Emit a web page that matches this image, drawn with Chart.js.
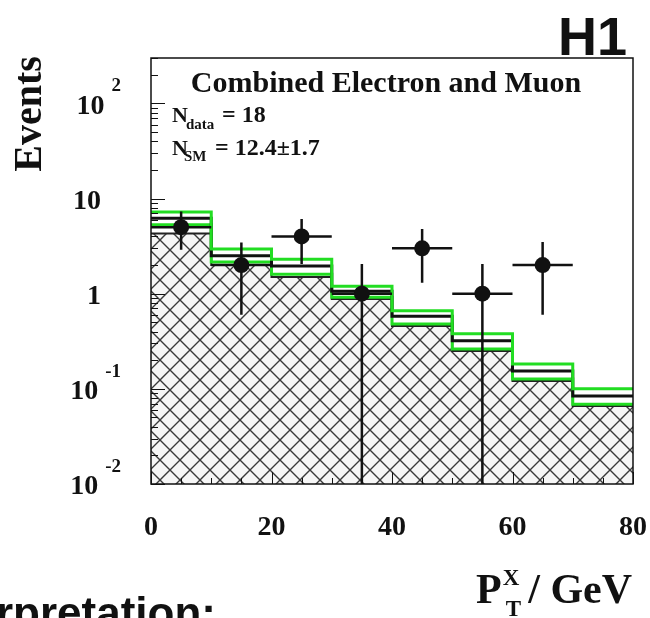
<!DOCTYPE html>
<html>
<head>
<meta charset="utf-8">
<title>PT X distribution</title>
<script src="https://cdn.jsdelivr.net/npm/chart.js@4.4.0/dist/chart.umd.min.js"></script>
<style>
    html, body { margin: 0; padding: 0; background: #fff; }
    #wrap { width: 650px; height: 618px; position: relative; }
</style>
</head>
<body>
<div id="wrap"><canvas id="ptxChart" width="650" height="618"></canvas></div>
<script>
// histogram bin edges (GeV)
const binEdges = [0, 10, 20, 30, 40, 50, 60, 70, 80];

// SM expectation per bin, its band edges (green) and the hatched component
const smTotal = [6.2, 2.5, 1.95, 1.06, 0.58, 0.32, 0.154, 0.084];
const smUp = [7.2, 2.95, 2.3, 1.2, 0.66, 0.38, 0.182, 0.1];
const smDown = [5.3, 2.15, 1.6, 0.92, 0.48, 0.262, 0.127, 0.069];
const hatchedPart = [4.3, 2.0, 1.5, 0.88, 0.457, 0.25, 0.121, 0.066];

// data points with error bars
const dataX = [5, 15, 25, 35, 45, 55, 65];
const dataXErr = [5, 5, 5, 5, 5, 5, 5];
const dataY = [5, 2, 4, 1, 3, 1, 2];
const dataHi = [7.3, 3.45, 6.1, 2.05, 4.8, 2.05, 3.5];
const dataLo = [2.9, 0.6, 2.05, 0, 1.3, 0, 0.6];

// axis ticks
const xTicks = [0, 20, 40, 60, 80];
const yTicks = [0.01, 0.1, 1, 10, 100];
const yTickBase = ['10', '10', '1', '10', '10'];
const yTickExp = ['-2', '-1', '', '', '2'];

const SERIF = '"Liberation Serif", "DejaVu Serif", serif';
const SANS = '"Liberation Sans", Arial, sans-serif';
const GREEN = '#22dd22';
const INK = '#111';

function stepPoints(values) {
    return binEdges.map((x, i) => ({ x: x, y: values[Math.min(i, values.length - 1)] }));
}

function makeHatch() {
    const size = 20;
    const c = document.createElement('canvas');
    c.width = size;
    c.height = size;
    const g = c.getContext('2d');
    g.fillStyle = '#f6f6f6';
    g.fillRect(0, 0, size, size);
    g.strokeStyle = '#3a3a3a';
    g.lineWidth = 1.4;
    g.beginPath();
    for (let k = -1; k <= 1; k++) {
        g.moveTo(k * size, 0);
        g.lineTo(k * size + size, size);
        g.moveTo(k * size + size, 0);
        g.lineTo(k * size, size);
    }
    g.stroke();
    return g.createPattern(c, 'repeat');
}

/**
 * Vertical and horizontal error bars, drawn just before the data markers
 */
const errorBarPlugin = {
    id: 'errorBars',
    beforeDatasetDraw(chart, args) {
        if (args.index !== 0) return;
        const { ctx, chartArea, scales: { x, y } } = chart;
        ctx.save();
        ctx.strokeStyle = INK;
        ctx.lineWidth = 2.5;
        ctx.beginPath();
        dataX.forEach((xv, i) => {
            const px = x.getPixelForValue(xv);
            const py = y.getPixelForValue(dataY[i]);
            const top = y.getPixelForValue(dataHi[i]);
            const bot = dataLo[i] > 0 ? y.getPixelForValue(dataLo[i]) : chartArea.bottom;
            ctx.moveTo(px, top);
            ctx.lineTo(px, bot);
            ctx.moveTo(x.getPixelForValue(xv - dataXErr[i]), py);
            ctx.lineTo(x.getPixelForValue(xv + dataXErr[i]), py);
        });
        ctx.stroke();
        ctx.restore();
    }
};

/**
 * ROOT-style frame with inner ticks, plus all the texts around the plot
 */
const frameAndLabels = {
    id: 'frameAndLabels',
    afterDatasetsDraw(chart) {
        const { ctx, chartArea: a, scales: { x, y } } = chart;
        ctx.save();
        ctx.strokeStyle = INK;
        ctx.lineWidth = 1.5;
        ctx.strokeRect(a.left, a.top, a.right - a.left, a.bottom - a.top);

        ctx.lineWidth = 1;
        ctx.beginPath();
        yTicks.forEach(t => {
            for (let m = 1; m <= 9; m++) {
                const v = t * m;
                if (v > y.max) break;
                const py = Math.round(y.getPixelForValue(v)) + 0.5;
                ctx.moveTo(a.left, py);
                ctx.lineTo(a.left + (m === 1 ? 14 : 7), py);
            }
        });
        for (let v = x.min; v <= x.max; v += 5) {
            const px = Math.round(x.getPixelForValue(v)) + 0.5;
            const major = xTicks.includes(v);
            ctx.moveTo(px, a.bottom);
            ctx.lineTo(px, a.bottom - (major ? 12 : 6));
        }
        ctx.stroke();
        ctx.restore();
    },
    afterDraw(chart) {
        const { ctx, scales: { x, y } } = chart;
        ctx.save();
        ctx.fillStyle = INK;
        ctx.textBaseline = 'middle';

        // y tick labels with exponents
        yTicks.forEach((t, i) => {
            const py = y.getPixelForValue(t) + 3;
            let right = 101;
            if (yTickExp[i]) {
                ctx.font = 'bold 19px ' + SERIF;
                ctx.textAlign = 'right';
                ctx.fillText(yTickExp[i], 121, py - 20);
                right = 121 - ctx.measureText(yTickExp[i]).width - 7;
            }
            ctx.font = 'bold 28px ' + SERIF;
            ctx.textAlign = 'right';
            ctx.fillText(yTickBase[i], right, py);
        });

        // x tick labels
        ctx.font = 'bold 28px ' + SERIF;
        ctx.textAlign = 'center';
        xTicks.forEach(t => {
            ctx.fillText(String(t), x.getPixelForValue(t), 528);
        });

        // y title
        ctx.save();
        ctx.translate(31, 114);
        ctx.rotate(-Math.PI / 2);
        ctx.font = 'bold 40px ' + SERIF;
        ctx.textAlign = 'center';
        ctx.fillText('Events', 0, 0);
        ctx.restore();

        // x title: P_T^X / GeV
        ctx.textBaseline = 'alphabetic';
        ctx.textAlign = 'left';
        let cx = 476;
        ctx.font = 'bold 42px ' + SERIF;
        ctx.fillText('P', cx, 603);
        cx += ctx.measureText('P').width + 1;
        ctx.font = 'bold 23px ' + SERIF;
        ctx.fillText('X', cx, 585);
        ctx.fillText('T', cx + 3, 616);
        cx += ctx.measureText('X').width + 9;
        ctx.font = 'bold 42px ' + SERIF;
        ctx.fillText('/ GeV', cx, 603);

        // legend block inside the frame
        ctx.textAlign = 'center';
        ctx.font = 'bold 30px ' + SERIF;
        ctx.fillText('Combined Electron and Muon', 386, 92);

        ctx.textAlign = 'left';
        ctx.font = 'bold 22px ' + SERIF;
        ctx.fillText('N', 172, 122);
        ctx.fillText('N', 172, 155);
        ctx.font = 'bold 15px ' + SERIF;
        ctx.fillText('data', 186, 129);
        ctx.fillText('SM', 184, 161);
        ctx.font = 'bold 24px ' + SERIF;
        ctx.fillText('= 18', 222, 122);
        ctx.fillText('= 12.4\u00b11.7', 215, 155);

        // experiment tag
        ctx.textAlign = 'right';
        ctx.font = 'bold 54px ' + SANS;
        ctx.fillText('H1', 627, 55);

        // slide caption cut by the bottom edge
        ctx.textAlign = 'left';
        ctx.font = 'bold 44px ' + SANS;
        const lead = ctx.measureText('Inte').width;
        ctx.fillText('Interpretation:', -lead - 4, 628);
        ctx.restore();
    }
};

function stepDataset(values, color, width, extra) {
    return Object.assign({
        data: stepPoints(values),
        borderColor: color,
        borderWidth: width,
        stepped: 'before',
        pointRadius: 0,
        fill: false
    }, extra || {});
}

const ctx = document.getElementById('ptxChart');
new Chart(ctx.getContext('2d'), {
    type: 'line',
    data: {
        datasets: [
            {
                label: 'Data',
                data: dataX.map((x, i) => ({ x: x, y: dataY[i] })),
                showLine: false,
                pointRadius: 8,
                pointBackgroundColor: INK,
                pointBorderWidth: 0
            },
            stepDataset(smUp, GREEN, 3),
            stepDataset(smTotal, INK, 3),
            stepDataset(smDown, GREEN, 3),
            stepDataset(hatchedPart, '#222', 2, { fill: 'start', backgroundColor: makeHatch() })
        ]
    },
    options: {
        responsive: false,
        animation: false,
        events: [],
        layout: { padding: { left: 151, top: 58, right: 17, bottom: 134 } },
        scales: {
            x: { type: 'linear', min: 0, max: 80, display: false },
            y: { type: 'logarithmic', min: 0.01, max: 300, display: false }
        },
        plugins: {
            legend: { display: false },
            tooltip: { enabled: false }
        }
    },
    plugins: [errorBarPlugin, frameAndLabels]
});
</script>
</body>
</html>
